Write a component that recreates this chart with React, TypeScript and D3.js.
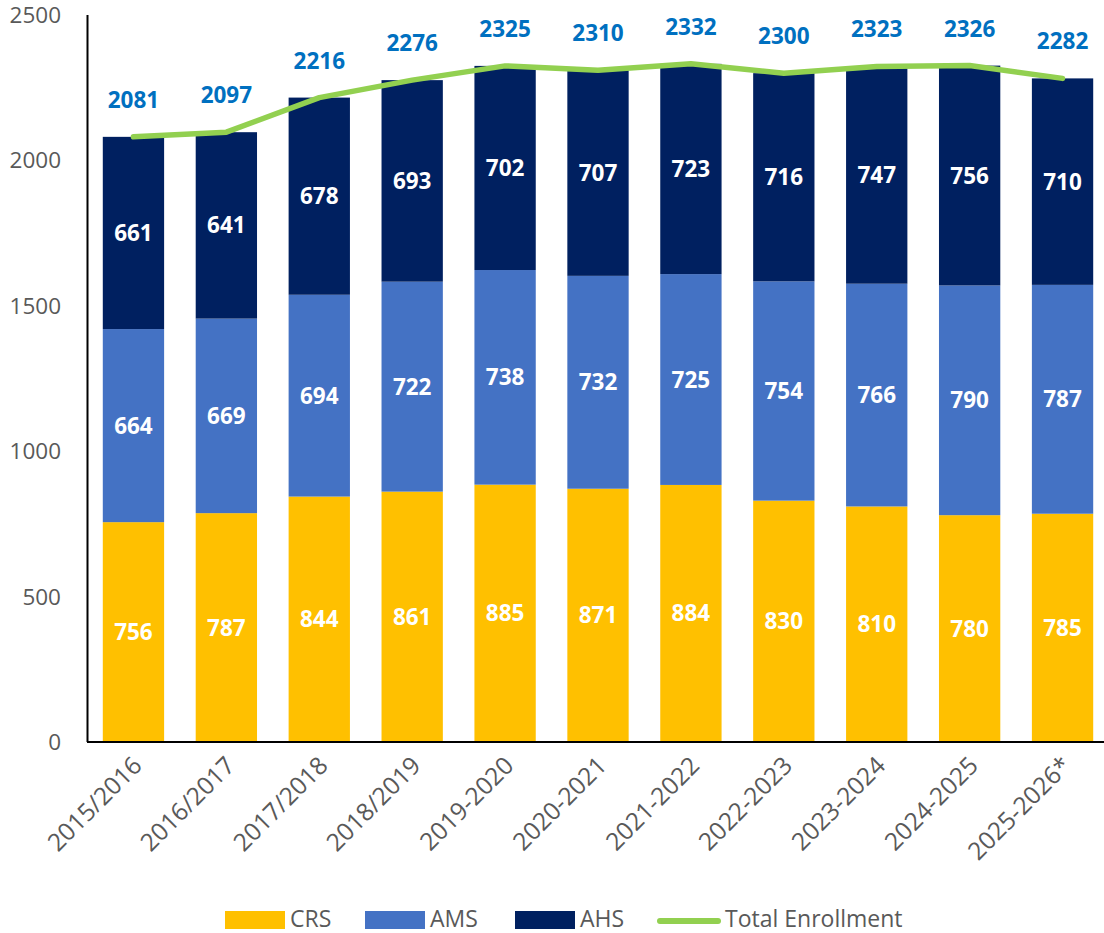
import React from "react";
import * as d3 from "d3";

const years = ["2015/2016","2016/2017","2017/2018","2018/2019","2019-2020","2020-2021","2021-2022","2022-2023","2023-2024","2024-2025","2025-2026*"];
const crs = [756,787,844,861,885,871,884,830,810,780,785];
const ams = [664,669,694,722,738,732,725,754,766,790,787];
const ahs = [661,641,678,693,702,707,723,716,747,756,710];
const totals = [2081,2097,2216,2276,2325,2310,2332,2300,2323,2326,2282];
const yTicks = [0,500,1000,1500,2000,2500];

const seriesNames = ["CRS","AMS","AHS"];
const seriesColors = ["#FFC000","#4472C4","#002060"];
const lineColor = "#92D050";
const totalColor = "#0070C0";
const gray = "#595959";
const FONT = "'Open Sans', 'DejaVu Sans', sans-serif";

export default function App() {
  const W = 1104, H = 933;
  const x = d3.scaleBand<string>().domain(years).range([87, 1109]).paddingInner(0.34).paddingOuter(0.17);
  const y = d3.scaleLinear().domain([0, 2500]).range([742, 15]);
  const rows = years.map((yr, i) => ({ yr, CRS: crs[i], AMS: ams[i], AHS: ahs[i] }));
  const stack = d3.stack<any>().keys(seriesNames)(rows);
  const cx = (yr: string) => (x(yr) as number) + x.bandwidth() / 2;
  const line = d3.line<number>().x((_, i) => cx(years[i])).y(d => y(d));

  const legend = [
    { type: "rect", color: seriesColors[0], label: "CRS", x: 225 },
    { type: "rect", color: seriesColors[1], label: "AMS", x: 365 },
    { type: "rect", color: seriesColors[2], label: "AHS", x: 515 },
    { type: "line", color: lineColor, label: "Total Enrollment", x: 660 },
  ];

  return (
    <div style={{ position: "absolute", left: 0, top: 0 }}>
      <svg width={W} height={H} style={{ display: "block", fontFamily: FONT }}>
        <rect width={W} height={H} fill="#fff" />
        {stack.map((s, si) => (
          <g key={s.key}>
            {s.map((d, i) => (
              <rect key={i} x={x(years[i])} width={x.bandwidth()} y={y(d[1])} height={y(d[0]) - y(d[1])} fill={seriesColors[si]} />
            ))}
          </g>
        ))}
        {stack.map((s) => (
          <g key={"l" + s.key}>
            {s.map((d, i) => (
              <text key={i} x={cx(years[i])} y={(y(d[0]) + y(d[1])) / 2 + 8} textAnchor="middle" fill="#fff" fontWeight="bold" fontSize={22.5}>
                {d[1] - d[0]}
              </text>
            ))}
          </g>
        ))}
        <path d={line(totals) || ""} fill="none" stroke={lineColor} strokeWidth={5.5} strokeLinecap="round" strokeLinejoin="round" />
        {totals.map((t, i) => (
          <text key={i} x={cx(years[i])} y={y(t) - 29} textAnchor="middle" fill={totalColor} fontWeight="bold" fontSize={22.5}>{t}</text>
        ))}
        <line x1={87.5} x2={87.5} y1={15} y2={742} stroke="#000" strokeWidth={2} />
        <line x1={87} x2={1104} y1={742} y2={742} stroke="#000" strokeWidth={2} />
        {yTicks.map(t => (
          <text key={t} x={61} y={y(t) + 8} textAnchor="end" fill={gray} fontSize={22.5}>{t}</text>
        ))}
        {years.map(yr => (
          <text key={yr} transform={`translate(${cx(yr) + 4},${761}) rotate(-45)`} textAnchor="end" dy="0.35em" fill={gray} fontSize={24.5}>{yr}</text>
        ))}
        {legend.map(l => (
          <g key={l.label}>
            {l.type === "rect"
              ? <rect x={l.x} y={911} width={60} height={18} fill={l.color} />
              : <line x1={l.x} x2={l.x + 58} y1={921} y2={921} stroke={l.color} strokeWidth={6} strokeLinecap="round" />}
            <text x={l.x + 65} y={927} fill={gray} fontSize={23}>{l.label}</text>
          </g>
        ))}
      </svg>
    </div>
  );
}
